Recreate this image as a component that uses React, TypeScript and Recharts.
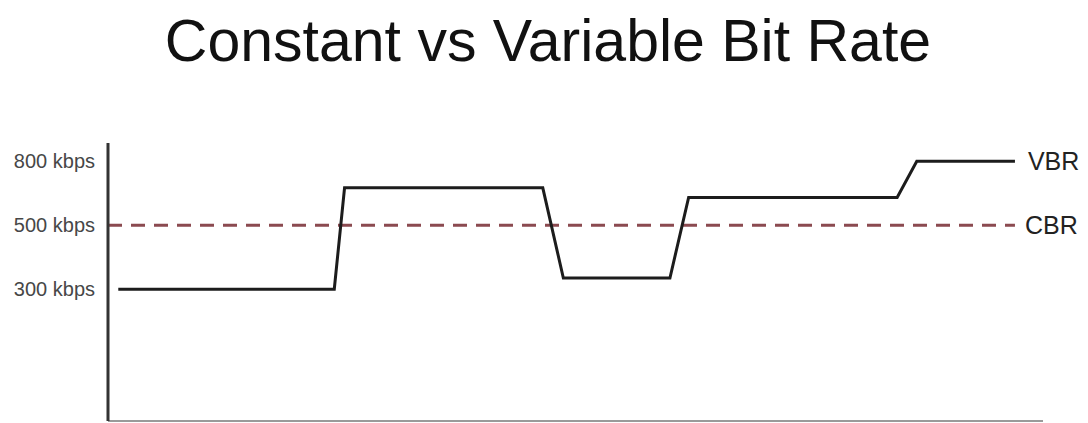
import React from 'react';
import { LineChart, Line, XAxis, YAxis, ReferenceDot } from 'recharts';

// Y tick values (kbps) and their labels; the axis is schematic (evenly spaced ticks)
const tickKbps = [300, 500, 800];
const tickLabels = ['300 kbps', '500 kbps', '800 kbps'];
const tickLevels = [2, 3, 4];

// Variable bit rate series (time in % of x-axis, value in kbps)
const vbrTime = [1.1, 24.2, 25.3, 46.5, 48.7, 60.1, 62.1, 84.4, 86.5, 97.0];
const vbrKbps = [300, 300, 675, 675, 335, 335, 630, 630, 800, 800];

// Constant bit rate series
const cbrTime = [0, 97.0];
const cbrKbps = [500, 500];

const seriesNames = ['VBR', 'CBR'];

function kbpsToLevel(v: number): number {
  const n = tickKbps.length;
  let i = 0;
  if (v >= tickKbps[n - 1]) i = n - 2;
  else {
    while (i < n - 2 && v > tickKbps[i + 1]) i++;
  }
  const k0 = tickKbps[i], k1 = tickKbps[i + 1];
  const l0 = tickLevels[i], l1 = tickLevels[i + 1];
  return l0 + ((v - k0) / (k1 - k0)) * (l1 - l0);
}

const vbrData = vbrTime.map((t, i) => ({ t, level: kbpsToLevel(vbrKbps[i]) }));
const cbrData = cbrTime.map((t, i) => ({ t, level: kbpsToLevel(cbrKbps[i]) }));

const FONT = '"Liberation Sans", Arial, Helvetica, sans-serif';

const YTick = (props: any) => {
  const { x, y, payload } = props;
  const idx = tickLevels.indexOf(payload.value);
  return (
    <text
      x={x}
      y={y}
      textAnchor="end"
      dominantBaseline="central"
      fontSize={20}
      fontFamily={FONT}
      fill="#474747"
    >
      {idx >= 0 ? tickLabels[idx] : ''}
    </text>
  );
};

export default function App() {
  const lastV = vbrData[vbrData.length - 1];
  const lastC = cbrData[cbrData.length - 1];
  return (
    <div style={{ position: 'absolute', left: 0, top: 0, width: 1088, height: 423, background: '#fff' }}>
      <div
        style={{
          position: 'absolute',
          left: 4,
          top: 12,
          width: 1088,
          textAlign: 'center',
          fontFamily: FONT,
          fontSize: 59,
          lineHeight: '59px',
          color: '#111',
          whiteSpace: 'nowrap',
        }}
      >
        Constant vs Variable Bit Rate
      </div>
      <LineChart
        width={1088}
        height={423}
        margin={{ top: 143, right: 45, bottom: 0, left: 8 }}
      >
        <XAxis
          type="number"
          dataKey="t"
          domain={[0, 100]}
          tick={false}
          tickLine={false}
          height={2}
          axisLine={{ stroke: '#9a9a9a', strokeWidth: 2 }}
        />
        <YAxis
          type="number"
          domain={[-0.06, 4.284]}
          ticks={tickLevels}
          width={100}
          tickLine={false}
          tickSize={5}
          tickMargin={8}
          tick={<YTick />}
          axisLine={{ stroke: '#333', strokeWidth: 3 }}
          allowDataOverflow
        />
        <Line
          data={cbrData}
          dataKey="level"
          type="linear"
          stroke="#8b4a50"
          strokeWidth={3}
          strokeDasharray="14 9"
          dot={false}
          activeDot={false}
          isAnimationActive={false}
        />
        <Line
          data={vbrData}
          dataKey="level"
          type="linear"
          stroke="#1c1c1c"
          strokeWidth={3}
          dot={false}
          activeDot={false}
          isAnimationActive={false}
        />
        <ReferenceDot
          x={lastV.t}
          y={lastV.level}
          r={0}
          fill="none"
          stroke="none"
          label={{ value: seriesNames[0], position: 'right', offset: 13, fontSize: 25, fill: '#222', fontFamily: FONT }}
        />
        <ReferenceDot
          x={lastC.t}
          y={lastC.level}
          r={0}
          fill="none"
          stroke="none"
          label={{ value: seriesNames[1], position: 'right', offset: 10, fontSize: 25, fill: '#222', fontFamily: FONT }}
        />
      </LineChart>
    </div>
  );
}
